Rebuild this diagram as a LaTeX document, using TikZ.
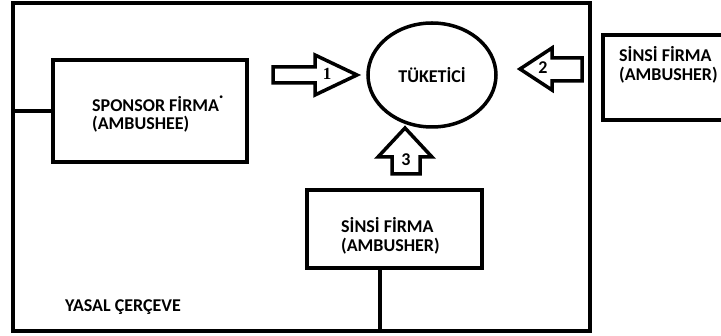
\documentclass[tikz,border=0pt]{standalone}
\usepackage{fontspec}
\setmainfont{Carlito}
\newfontfamily\serifnum{Liberation Serif}
\usepackage{tikz}
\usetikzlibrary{shapes,positioning,calc}

\tikzset{
  box/.style={draw, line width=4.5pt, inner sep=0pt},
  txt/.style={font=\bfseries\fontsize{18}{18.5}\selectfont, align=left, inner sep=0pt},
  blockarrow/.style={draw, line width=3.5pt, line join=miter, fill=white},
  num/.style={font=\bfseries\fontsize{18}{18}\selectfont, inner sep=0pt}
}

\begin{document}
\begin{tikzpicture}[x=1pt,y=-1pt]
    \useasboundingbox (0,0) rectangle (721,336);

    % Legal frame
    \node[box, minimum width=577, minimum height=328] (frame) at (301.5,167) {};
    \node[txt, anchor=base west] (legal) at (65,312) {YASAL ÇERÇEVE};

    % Sponsor
    \node[box, minimum width=194, minimum height=102] (sponsor) at (150,111) {};
    \node[txt, anchor=west] (sponsortxt) at (92,114) {SPONSOR FİRMA\raisebox{0.3ex}{˙}\\(AMBUSHEE)};
    \draw[line width=4.5pt] (sponsor.west) -- (sponsor.west -| frame.west);

    % Consumer
    \node[txt, draw, ellipse, line width=3.5pt, minimum width=128, minimum height=104] (consumer) at (432,75) {TÜKETİCİ};

    % Ambusher inside
    \node[box, minimum width=175, minimum height=78] (inner) at (394.5,229) {};
    \node[txt, anchor=west] (innertxt) at (341,236) {SİNSİ FİRMA\\(AMBUSHER)};
    \draw[line width=4.5pt] ([xshift=-14.5]inner.south) -- ([xshift=-14.5]inner.south |- frame.south);

    % Ambusher outside
    \node[box, minimum width=157, minimum height=85] (outer) at (681.5,77.5) {};
    \node[txt, anchor=west] (outertxt) at (619,65) {SİNSİ FİRMA\\(AMBUSHER)};

    % Arrows
    \draw[blockarrow] (273,67) -- (315,67) -- (315,55) -- (357,75) -- (315,95) -- (315,83) -- (273,83) -- cycle;
    \node[num, font=\serifnum\bfseries\fontsize{17}{17}\selectfont] (n1) at (327,74) {1};

    \draw[blockarrow] (582,58) -- (552,58) -- (552,48) -- (520,69) -- (552,90) -- (552,81) -- (582,81) -- cycle;
    \node[num] (n2) at (543,68) {2};

    \draw[blockarrow] (392,174) -- (392,157) -- (378,157) -- (405,128) -- (432,157) -- (420,157) -- (420,174) -- cycle;
    \node[num] (n3) at (406,160) {3};
\end{tikzpicture}
\end{document}
